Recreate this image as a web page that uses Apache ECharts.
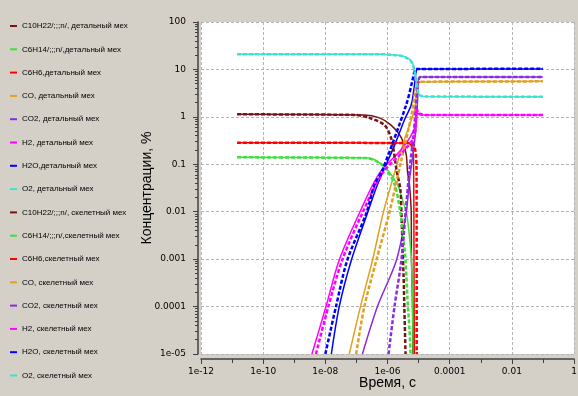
<!DOCTYPE html>
<html>
<head>
<meta charset="UTF-8">
<title>Концентрации</title>
<script src="https://cdn.jsdelivr.net/npm/echarts@6/dist/echarts.min.js"></script>
</head>
<body style="margin:0;background:#d4d0c8;">
<div id="container" style="width:578px;height:396px;"></div>
<script>
var dom = document.getElementById('container');
var myChart = echarts.init(dom);

// ticks
var xTicks = [1e-12, 1e-10, 1e-8, 1e-6, 1e-4, 1e-2, 1];
var xTickLabels = ['1e-12', '1e-10', '1e-08', '1e-06', '0.0001', '0.01', '1'];
var yTicks = [1e-5, 1e-4, 1e-3, 1e-2, 1e-1, 1, 10, 100];
var yTickLabels = ['1e-05', '0.0001', '0.001', '0.01', '0.1', '1', '10', '100'];

// names and colours
var detNames = ['C10H22/;;;n/, детальный мех', 'C6H14/;;;n/,детальный мех', 'C6H6,детальный мех', 'CO, детальный мех',
  'CO2, детальный мех', 'H2, детальный мех', 'H2O,детальный мех', 'O2, детальный мех'];
var skelNames = ['C10H22/;;;n/, скелетный мех', 'C6H14/;;;n/,скелетный мех', 'C6H6,скелетный мех', 'CO, скелетный мех',
  'CO2, скелетный мех', 'H2, скелетный мех', 'H2O, скелетный мех', 'O2, скелетный мех'];
var colors = ['#7a1414', '#3ee03e', '#ff0000', '#e0a020', '#8a2be2', '#ff00ff', '#0000ff', '#40e0d0'];

// [time, s ; concentration, %] - detailed mechanism
var c10h22Det = [[1.45e-11,1.13],[1.8e-7,1.1],[5.5e-7,0.95],[1.3e-6,0.67],[2.8e-6,0.36],[4.0e-6,0.16],[4.4e-6,0.07],[5.1e-6,0.037],[5.8e-6,0.0094],[5.9e-6,9.6e-4],[6.4e-6,1e-4],[6.5e-6,1e-5]];
var c6h14Det = [[1.45e-11,0.14],[2e-7,0.138],[3.8e-7,0.125],[1e-6,0.076],[2.1e-6,0.037],[3.05e-6,0.0177],[4.1e-6,0.0094],[5.1e-6,0.0029],[5.9e-6,9.6e-4],[6.4e-6,1e-4],[6.7e-6,1e-5]];
var c6h6Det = [[1.45e-11,0.285],[4.4e-6,0.28],[5.4e-6,0.26],[6.4e-6,0.22],[6.9e-6,0.12],[7.1e-6,1.6e-3],[7.3e-6,1e-5]];
var coDet = [[5.9e-8,1e-5],[1.35e-7,1e-4],[3.3e-7,9.6e-4],[7.4e-7,0.0099],[1.45e-6,0.047],[3.5e-6,0.33],[7.4e-6,1.4],[8.6e-6,3.7],[9.3e-6,5.4],[2.3e-5,5.5],[0.1,5.6]];
var co2Det = [[1.56e-7,1e-5],[4.75e-7,1e-4],[1.95e-6,9.6e-4],[4.0e-6,0.0094],[5.1e-6,0.047],[6.9e-6,0.2],[8.4e-6,0.67],[9.3e-6,2.3],[1e-5,6.0],[1.16e-5,6.9],[0.1,6.9]];
var h2Det = [[3.7e-9,1e-5],[1.05e-8,1e-4],[2.8e-8,9.6e-4],[1.25e-7,0.0094],[5.5e-7,0.065],[3.05e-6,0.22],[7.4e-6,0.58],[8.4e-6,1.4],[9.3e-6,1.2],[1.25e-5,1.1],[0.1,1.09]];
var h2oDet = [[1.56e-8,1e-5],[2.8e-8,1e-4],[6.9e-8,9.6e-4],[2.27e-7,0.0094],[4.75e-7,0.037],[1.68e-6,0.25],[3.5e-6,0.86],[5.8e-6,1.8],[7.4e-6,4.7],[8.6e-6,9.7],[1.08e-5,10.2],[0.1,10.2]];
var o2Det = [[1.45e-11,21],[5.5e-7,21],[1.7e-6,20.2],[3.05e-6,19.2],[5.1e-6,16.5],[6.4e-6,13.7],[7.4e-6,9.7],[8.4e-6,6],[9.3e-6,3.7],[1.08e-5,2.9],[1.56e-5,2.7],[0.1,2.66]];

// skeletal mechanism
var c10h22Skel = [[1.45e-11,1.13],[8.6e-8,1.1],[2.6e-7,0.95],[8e-7,0.67],[1.35e-6,0.33],[1.95e-6,0.076],[2.6e-6,0.029],[2.8e-6,0.0094],[3.05e-6,0.0018],[3.3e-6,4.2e-4],[3.5e-6,8.5e-5],[3.8e-6,1e-5]];
var c6h14Skel = [[1.45e-11,0.14],[2e-7,0.135],[4e-7,0.12],[8e-7,0.088],[1.7e-6,0.037],[2.6e-6,0.0094],[3.3e-6,0.0025],[3.8e-6,9.6e-4],[4.4e-6,1.4e-4],[5.1e-6,3.2e-5],[5.5e-6,1e-5]];
var c6h6Skel = [[1.45e-11,0.285],[5.1e-6,0.28],[6.9e-6,0.25],[8e-6,0.18],[8.6e-6,0.076],[8.7e-6,1e-5]];
var coSkel = [[9.8e-8,1e-5],[1.8e-7,1e-4],[4.4e-7,9.6e-4],[1.16e-6,0.0099],[2.8e-6,0.123],[5.9e-6,1.09],[8.6e-6,4.7],[1e-5,5.5],[0.1,5.6]];
var co2Skel = [[1.08e-6,1e-5],[1.68e-6,1e-4],[2.8e-6,9.6e-4],[3.8e-6,0.0094],[5.1e-6,0.076],[6.9e-6,0.42],[8.6e-6,2.3],[1e-5,6.0],[1.16e-5,6.9],[0.1,6.9]];
var h2Skel = [[5e-9,1e-5],[1.25e-8,1e-4],[3.5e-8,9.6e-4],[1.56e-7,0.0094],[6.9e-7,0.065],[3.5e-6,0.2],[7.4e-6,0.4],[8.6e-6,1.5],[1e-5,1.2],[1.56e-5,1.1],[0.1,1.1]];
var h2oSkel = [[1e-8,1e-5],[2.2e-8,1e-4],[5.1e-8,9.6e-4],[2.1e-7,0.0094],[3.8e-7,0.037],[6.9e-7,0.076],[4e-6,1.8],[6.4e-6,6.0],[7.4e-6,9],[8.6e-6,10.2],[0.1,10.3]];
var o2Skel = [[1.45e-11,21],[5.5e-7,21],[1.7e-6,20],[3.05e-6,19],[5.1e-6,16],[6.4e-6,13],[7.4e-6,9],[8.6e-6,5.5],[9.5e-6,3.5],[1.1e-5,2.85],[1.6e-5,2.7],[0.1,2.66]];

var detData = [c10h22Det, c6h14Det, c6h6Det, coDet, co2Det, h2Det, h2oDet, o2Det];
var skelData = [c10h22Skel, c6h14Skel, c6h6Skel, coSkel, co2Skel, h2Skel, h2oSkel, o2Skel];

function tickFormatter(ticks, labels) {
  return function (v) {
    var e = Math.log10(v);
    for (var i = 0; i < ticks.length; i++) {
      if (Math.abs(Math.log10(ticks[i]) - e) < 0.01) return labels[i];
    }
    return '';
  };
}

var axisColor = '#404040';
var gridColor = '#b4b4b4';
var tickFont = 'DejaVu Sans';

var series = [];
detData.forEach(function (d, i) {
  series.push({
    name: detNames[i], type: 'line', data: d, symbol: 'none', clip: true, smooth: 0.3,
    itemStyle: { color: colors[i] },
    lineStyle: { color: colors[i], width: 1.5 }
  });
});
skelData.forEach(function (d, i) {
  series.push({
    name: skelNames[i], type: 'line', data: d, symbol: 'none', clip: true, smooth: 0.3,
    itemStyle: { color: colors[i] },
    lineStyle: { color: colors[i], width: 2.5, type: [4, 2] }
  });
});

var option = {
  animation: false,
  backgroundColor: '#d4d0c8',
  grid: {
    left: 201, right: 4, top: 22, bottom: 42,
    outerBoundsMode: 'none', containLabel: false,
    show: true, backgroundColor: '#ffffff', borderWidth: 0
  },
  legend: {
    orient: 'vertical', left: 5, top: 16,
    icon: 'rect', itemWidth: 7, itemHeight: 2, itemGap: 13.3,
    textStyle: { fontFamily: 'Liberation Sans', fontSize: 8, color: '#000', lineHeight: 10 },
    data: detNames.concat(skelNames)
  },
  xAxis: [{
    type: 'log', logBase: 10, min: 1e-12, max: 1, interval: 2, offset: 5,
    name: 'Время, с', nameLocation: 'middle', nameGap: 17, nameMoveOverlap: false,
    nameTextStyle: { fontFamily: 'Liberation Sans', fontSize: 14, color: '#000' },
    axisLine: { show: true, onZero: false, lineStyle: { color: axisColor, width: 1.5 } },
    axisTick: { show: true, length: 5, lineStyle: { color: axisColor } },
    axisLabel: { margin: 8, fontFamily: tickFont, fontSize: 9, color: '#000', formatter: tickFormatter(xTicks, xTickLabels) },
    splitLine: { show: true, lineStyle: { color: gridColor, type: [3, 2] } }
  }, {
    // odd decade ticks on the bottom axis
    type: 'log', logBase: 10, min: 1e-12, max: 1, interval: 1, position: 'top', offset: -337,
    axisLine: { show: false },
    axisTick: { show: true, inside: true, length: 4, lineStyle: { color: axisColor } },
    axisLabel: { show: false },
    splitLine: { show: false }
  }],
  yAxis: {
    type: 'log', logBase: 10, min: 1e-5, max: 100, interval: 1, offset: 3,
    name: 'Концентрации, %', nameLocation: 'middle', nameGap: 44, nameMoveOverlap: false,
    nameTextStyle: { fontFamily: 'Liberation Sans', fontSize: 14, color: '#000' },
    axisLine: { show: true, onZero: false, lineStyle: { color: axisColor, width: 1.5 } },
    axisTick: { show: true, length: 5, lineStyle: { color: axisColor } },
    minorTick: { show: true, splitNumber: 9, length: 3, lineStyle: { color: axisColor } },
    axisLabel: { margin: 12, fontFamily: tickFont, fontSize: 9, color: '#000', formatter: tickFormatter(yTicks, yTickLabels) },
    splitLine: { show: true, lineStyle: { color: gridColor, type: [3, 2] } }
  },
  series: series
};

myChart.setOption(option);
</script>
</body>
</html>
